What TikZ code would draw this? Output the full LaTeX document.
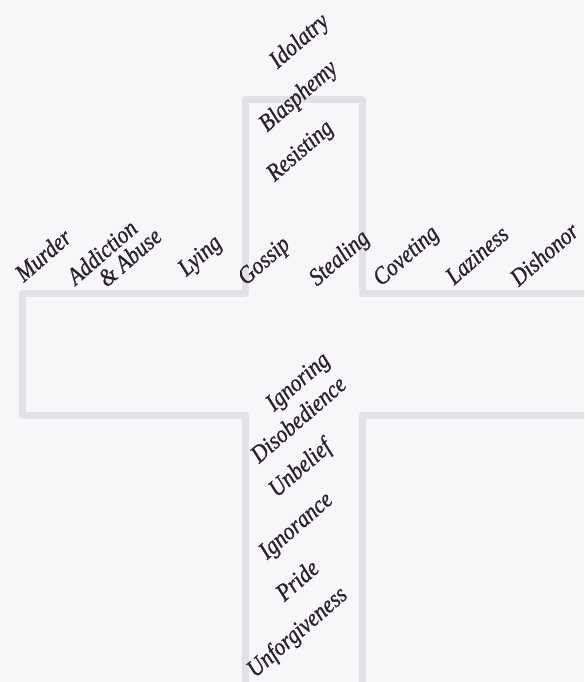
\documentclass[tikz,border=0pt]{standalone}
\usepackage{fontspec}
\newfontfamily\sinfont[FakeStretch=0.88,FakeBold=0.9]{Liberation Serif}
\usepackage{tikz}
\definecolor{paper}{HTML}{F7F6F8}
\definecolor{ghost}{HTML}{E2E1E6}
\definecolor{ink}{HTML}{2B2129}
\begin{document}
\begin{tikzpicture}[x=1pt,y=-1pt,
  sin/.style={rotate=41,text=ink,font=\sinfont\itshape\fontsize{24.5}{22}\selectfont,inner sep=0pt}]
\fill[paper] (0,0) rectangle (584,682);
\useasboundingbox (0,0) rectangle (584,682);
\begin{scope}
\clip (0,0) rectangle (584,682);
% faint cross seen through the paper
\draw[ghost,line width=7pt,line join=round] (245,100) -- (362,100) -- (362,293) -- (600,293) -- (600,415)
  -- (362,415) -- (362,700) -- (245,700) -- (245,415) -- (22,415) -- (22,293) -- (245,293) -- cycle;
\end{scope}
% top of the cross
\node[sin] (idol) at (300,42) {Idolatry};
\node[sin] (blas) at (299,97) {Blasphemy};
\node[sin] (resi) at (301,152) {Resisting};
% across the arms
\node[sin] (murd) at (43,255) {Murder};
\node[sin,align=left] (addi) at (114,256) {Addiction\\\hspace{0.9em}\& Abuse};
\node[sin] (lyin) at (201,257) {Lying};
\node[sin] (goss) at (265,262) {Gossip};
\node[sin] (stea) at (340,259) {Stealing};
\node[sin] (cove) at (407,257) {Coveting};
\node[sin] (lazi) at (477,255) {Laziness};
\node[sin] (disho) at (544,254) {Dishonor};
% down the stem
\node[sin] (igno) at (299,383) {Ignoring};
\node[sin] (diso) at (298,419) {Disobedience};
\node[sin] (unbe) at (301,469) {Unbelief};
\node[sin] (igna) at (297,527) {Ignorance};
\node[sin] (prid) at (297,580) {Pride};
\node[sin] (unfo) at (298,633) {Unforgiveness};
\end{tikzpicture}
\end{document}
